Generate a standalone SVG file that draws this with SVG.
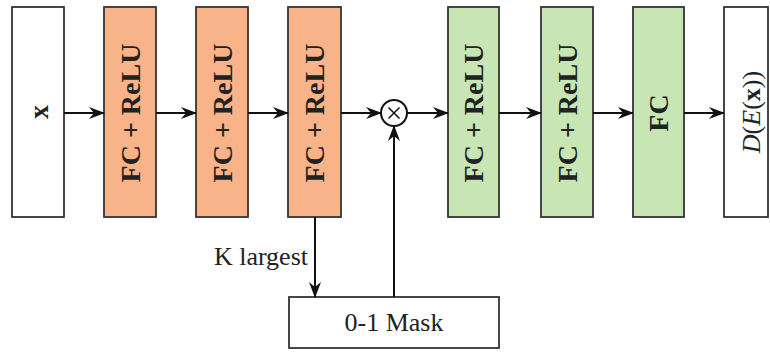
<svg xmlns="http://www.w3.org/2000/svg" width="770" height="352" viewBox="0 0 770 352">
<defs>
<marker id="ah" viewBox="0 0 16 12" refX="15" refY="6" markerWidth="16" markerHeight="12" markerUnits="userSpaceOnUse" orient="auto">
<path d="M0,0 L16,6 L0,12 L5,6 Z" fill="#111"/>
</marker>
</defs>
<style>
.box{stroke:#333;stroke-width:1.8}
.w{fill:#fff}
.o{fill:#F9B388}
.g{fill:#C8E6B4}
.lbl{font-family:"Liberation Serif",serif;font-size:26px;fill:#222}
.b{font-weight:bold;font-size:28px}
.c{stroke:#111;stroke-width:2;fill:none}
</style>
<rect width="770" height="352" fill="#fff"/>
<g id="input">
<rect class="box w" x="12" y="7" width="52" height="210"/>
<text class="lbl b" transform="translate(38,112) rotate(-90)" text-anchor="middle" dominant-baseline="central">x</text>
</g>
<g id="enc1">
<rect class="box o" x="104" y="7" width="52" height="210"/>
<text class="lbl b" transform="translate(130,113) rotate(-90)" text-anchor="middle" dominant-baseline="central">FC + ReLU</text>
</g>
<g id="enc2">
<rect class="box o" x="196" y="7" width="52" height="210"/>
<text class="lbl b" transform="translate(222,113) rotate(-90)" text-anchor="middle" dominant-baseline="central">FC + ReLU</text>
</g>
<g id="enc3">
<rect class="box o" x="288" y="7" width="53" height="210"/>
<text class="lbl b" transform="translate(314.5,113) rotate(-90)" text-anchor="middle" dominant-baseline="central">FC + ReLU</text>
</g>
<g id="mult">
<circle cx="394" cy="113" r="13" fill="#fff" stroke="#111" stroke-width="2"/>
<path d="M388.5,107.5 L399.5,118.5 M399.5,107.5 L388.5,118.5" stroke="#111" stroke-width="1.5"/>
</g>
<g id="dec1">
<rect class="box g" x="448" y="7" width="51" height="210"/>
<text class="lbl b" transform="translate(473.5,113) rotate(-90)" text-anchor="middle" dominant-baseline="central">FC + ReLU</text>
</g>
<g id="dec2">
<rect class="box g" x="541" y="7" width="52" height="210"/>
<text class="lbl b" transform="translate(567,113) rotate(-90)" text-anchor="middle" dominant-baseline="central">FC + ReLU</text>
</g>
<g id="dec3">
<rect class="box g" x="633" y="7" width="51" height="210"/>
<text class="lbl b" transform="translate(658.5,113) rotate(-90)" text-anchor="middle" dominant-baseline="central">FC</text>
</g>
<g id="output">
<rect class="box w" x="724" y="7" width="44" height="210"/>
<text class="lbl" transform="translate(751,112) rotate(-90)" text-anchor="middle" dominant-baseline="central"><tspan font-style="italic">D</tspan>(<tspan font-style="italic">E</tspan>(<tspan font-weight="bold">x</tspan>))</text>
</g>
<g id="mask">
<rect class="box w" x="289" y="297" width="210" height="51"/>
<text class="lbl" x="394" y="331" text-anchor="middle">0-1 Mask</text>
</g>
<g id="connectors">
<line class="c" x1="64" y1="113" x2="104" y2="113" marker-end="url(#ah)"/>
<line class="c" x1="156" y1="113" x2="196" y2="113" marker-end="url(#ah)"/>
<line class="c" x1="248" y1="113" x2="288" y2="113" marker-end="url(#ah)"/>
<line class="c" x1="341" y1="113" x2="381" y2="113" marker-end="url(#ah)"/>
<line class="c" x1="407" y1="113" x2="448" y2="113" marker-end="url(#ah)"/>
<line class="c" x1="499" y1="113" x2="541" y2="113" marker-end="url(#ah)"/>
<line class="c" x1="593" y1="113" x2="633" y2="113" marker-end="url(#ah)"/>
<line class="c" x1="684" y1="113" x2="724" y2="113" marker-end="url(#ah)"/>
<line class="c" x1="315" y1="217" x2="315" y2="297" marker-end="url(#ah)"/>
<line class="c" x1="394" y1="297" x2="394" y2="126" marker-end="url(#ah)"/>
<text class="lbl" x="308" y="265" text-anchor="end">K largest</text>
</g>
</svg>
